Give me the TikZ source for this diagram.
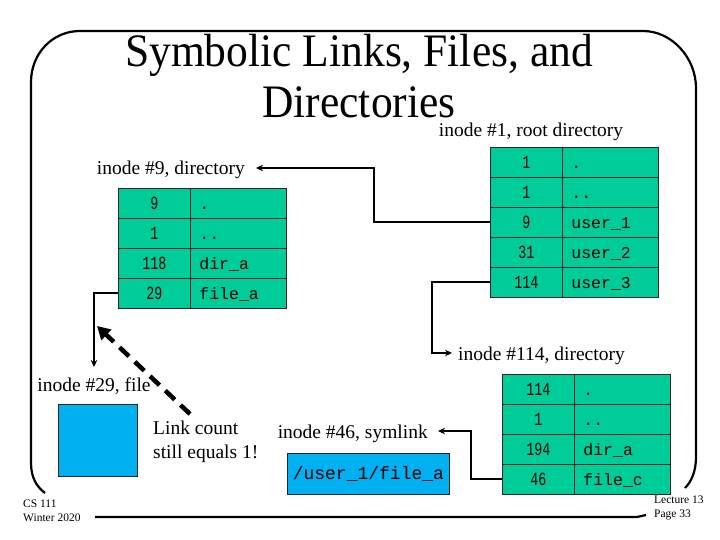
\documentclass[tikz,border=0pt]{standalone}
\usepackage{fontspec}
\usepackage{graphicx}
\setmainfont{Liberation Serif}
\newfontfamily\monof{Liberation Mono}
\usetikzlibrary{arrows.meta}
\definecolor{tgreen}{RGB}{0,204,153}
\definecolor{tblue}{RGB}{0,176,240}
\newcommand{\nmtxt}[1]{\scalebox{0.72}[1]{#1}}
\newcommand{\tltxt}[1]{\scalebox{1}[1.07]{#1}}
\begin{document}
\begin{tikzpicture}[x=1pt,y=-1pt,
  numcell/.style={draw=black!85, line width=0.8pt, fill=tgreen, minimum width=72pt, minimum height=30pt, inner sep=0pt, text height=13pt, text depth=0pt, font=\monof\fontsize{18.5}{19}\selectfont, anchor=north west},
  namecell/.style={draw=black!85, line width=0.8pt, fill=tgreen, minimum width=96pt, minimum height=30pt, inner xsep=9pt, inner ysep=0pt, text width=78pt, align=left, text height=13pt, text depth=1pt, font=\monof\fontsize{16.5}{17}\selectfont, anchor=north west},
  lab/.style={inner sep=0pt, text height=14pt, text depth=0pt, font=\fontsize{19.5}{24}\selectfont},
  conn/.style={line width=2pt, -{Stealth[length=7pt,width=6.5pt]}},
  frameline/.style={line width=2.2pt},
  bluebox/.style={draw=black!85, line width=0.8pt, fill=tblue, inner sep=0pt, anchor=north west},
  small/.style={anchor=north west, inner sep=0pt, align=left, font=\fontsize{11.5}{14}\selectfont},
  titlef/.style={anchor=base, inner sep=0pt, font=\fontsize{43.5}{44}\selectfont}
]
\fill[white] (0,0) rectangle (720,540);
\useasboundingbox (0,0) rectangle (720,540);

% frame
\draw[frameline] (45,493) .. controls (37,487) and (31,478) .. (31,463) -- (31,82)
  .. controls (31,54) and (52,31) .. (80,31) -- (643,31)
  .. controls (672,31) and (696,58) .. (696,88) -- (696,457)
  .. controls (696,472) and (691,482) .. (685,488);
\draw[frameline] (95,517) -- (637,517) -- (646,515);

% title
\node[titlef] (t1) at (359,67) {\tltxt{Symbolic Links, Files, and}};
\node[titlef] (t2) at (359,118) {\tltxt{Directories}};

% labels
\node[lab, anchor=base] (l1) at (531,137) {inode \#1, root directory};
\node[lab, anchor=east] (l9) at (245,168) {inode \#9, directory};
\node[lab, anchor=west] (l114) at (458,353) {inode \#114, directory};
\node[lab, anchor=east] (l46) at (428,431) {inode \#46, symlink};
\node[lab, anchor=north] (l29) at (94,377) {inode \#29, file};

% root directory table
\node[numcell] (ra1) at (490,147) {\nmtxt{1}};   \node[namecell] (rb1) at (562,147) {.};
\node[numcell] (ra2) at (490,177) {\nmtxt{1}};   \node[namecell] (rb2) at (562,177) {..};
\node[numcell] (ra3) at (490,207) {\nmtxt{9}};   \node[namecell] (rb3) at (562,207) {user\_1};
\node[numcell] (ra4) at (490,237) {\nmtxt{31}};  \node[namecell] (rb4) at (562,237) {user\_2};
\node[numcell] (ra5) at (490,267) {\nmtxt{114}}; \node[namecell] (rb5) at (562,267) {user\_3};

% inode 9 table
\node[numcell] (na1) at (118,188) {\nmtxt{9}};   \node[namecell] (nb1) at (190,188) {.};
\node[numcell] (na2) at (118,218) {\nmtxt{1}};   \node[namecell] (nb2) at (190,218) {..};
\node[numcell] (na3) at (118,248) {\nmtxt{118}}; \node[namecell] (nb3) at (190,248) {dir\_a};
\node[numcell] (na4) at (118,278) {\nmtxt{29}};  \node[namecell] (nb4) at (190,278) {file\_a};

% inode 114 table
\node[numcell] (ta1) at (502,374) {\nmtxt{114}}; \node[namecell] (tb1) at (574,374) {.};
\node[numcell] (ta2) at (502,404) {\nmtxt{1}};   \node[namecell] (tb2) at (574,404) {..};
\node[numcell] (ta3) at (502,434) {\nmtxt{194}}; \node[namecell] (tb3) at (574,434) {dir\_a};
\node[numcell] (ta4) at (502,464) {\nmtxt{46}};  \node[namecell] (tb4) at (574,464) {file\_c};

% blue boxes
\node[bluebox, minimum width=79pt, minimum height=72pt] (fbox) at (58,404) {};
\node[bluebox, minimum width=162pt, minimum height=41pt, font=\monof\fontsize{18}{18}\selectfont] (sbox) at (287,453) {/user\_1/file\_a};

% texts
\node[anchor=north west, inner sep=0pt, align=left, font=\fontsize{19.5}{24}\selectfont] (lc) at (153,421) {Link count\\still equals 1!};
\node[small] (cs) at (23,500) {CS 111\\Winter 2020};
\node[small] (lec) at (654,496) {Lecture 13\\Page 33};

% connectors
\draw[conn, shorten >=11pt] (ra3.west) -- ++(-116,0) |- (l9.east);
\draw[conn, shorten >=6pt] (ra5.west) -- ++(-58,0) |- (l114.west);
\draw[conn, shorten >=10pt] (na4.west) -| (l29.north);
\draw[conn, shorten >=10pt] (ta4.west) -- ++(-31,0) |- (l46.east);

% dashed link-count arrow
\coordinate (dstart) at (190,414);
\coordinate (dtip) at (97,326);
\draw[line width=4.5pt, dash pattern=on 13pt off 8pt, -{Triangle[length=13pt,width=14pt]}] (dstart) -- (dtip);
\end{tikzpicture}
\end{document}
